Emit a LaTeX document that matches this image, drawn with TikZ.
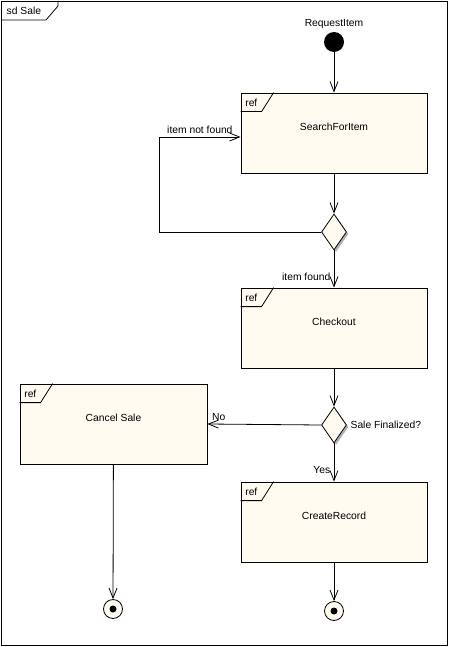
\documentclass[tikz,border=0pt]{standalone}
\usepackage{fontspec}
\setmainfont{Liberation Sans}
\usetikzlibrary{positioning}
\usetikzlibrary{arrows.meta, shapes.geometric, shadows}
\definecolor{cream}{RGB}{255,251,240}
\begin{document}
\begin{tikzpicture}[x=1pt, y=-1pt, line width=0.8pt, font=\fontsize{10.3}{12}\selectfont,
        refbox/.style = {rectangle, draw, fill=cream, minimum width=186pt, minimum height=80pt, text depth=12pt},
        decision/.style = {diamond, draw, fill=cream, minimum width=25pt, minimum height=36pt, inner sep=0pt, aspect=0.7,
            drop shadow={shadow xshift=2pt, shadow yshift=-2pt, fill=gray!60, opacity=1}},
        final/.style = {circle, draw, fill=cream, minimum size=19pt, inner sep=0pt,
            path picture={\fill[black] (path picture bounding box.center) circle (3.5pt);}},
        flow/.style = {-{Straight Barb[length=10pt, width=8pt]}}]
        \useasboundingbox (0,0) rectangle (449,647);
        % frame
        \draw (1,1) rectangle (447,645);
        \draw (1,20) -- (46,20) -- (58,6) -- (58,1);
        \node[anchor=west] (sd) at (3,11) {sd Sale};
        % nodes
        \node[circle, fill, minimum size=20pt, inner sep=0pt] (start) at (334,42) {};
        \node (req) [above=-1pt of start] {RequestItem};
        \node[refbox] (search) at (334,133) {SearchForItem};
        \node[decision] (dec1) at (334,232) {};
        \node[refbox] (checkout) at (334,328) {Checkout};
        \node[decision] (dec2) at (334,425) {};
        \node (fin) [right=0pt of dec2] {Sale Finalized?};
        \node[refbox, minimum width=187pt] (cancel) at (113.5,424) {Cancel Sale};
        \node[refbox] (create) at (334,522) {CreateRecord};
        \node[final] (endl) at (113,609) {};
        \node[final] (endr) at (334,611) {};
        % ref tabs
        \foreach \n in {search, checkout, cancel, create} {
            \draw (\n.north west) ++(0,19) -- ++(21,0) -- ++(12,-19);
            \node[anchor=west] at ([xshift=1pt, yshift=-10pt]\n.north west) {ref};
        }
        % flows
        \draw[flow] (start) -- (search);
        \draw[flow] (search) -- (dec1);
        \draw[flow] (dec1.west) -- ++(-162,0) |- node[pos=0.75, above] {item not found} ([yshift=-4pt]search.west);
        \draw[flow] (dec1.south) -- node[pos=0.7, left] {item found} (checkout);
        \draw[flow] (checkout) -- (dec2);
        \draw[flow] (dec2.west) -- node[pos=0.9, above] {No} (cancel.east);
        \draw[flow] (dec2.south) -- node[pos=0.7, left] {Yes} (create);
        \draw[flow] (cancel) -- (endl);
        \draw[flow] (create) -- (endr);
    \end{tikzpicture}
\end{document}
